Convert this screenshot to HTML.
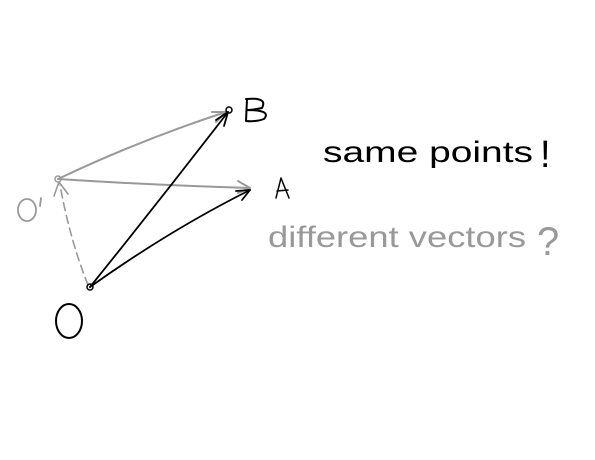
<!DOCTYPE html>
<html><head><style>
html,body{margin:0;padding:0;background:#fff;width:595px;height:460px;overflow:hidden}
</style></head><body>
<svg width="595" height="460" viewBox="0 0 595 460" xmlns="http://www.w3.org/2000/svg">
<g fill="none" stroke-linecap="round" stroke-linejoin="round">
<!-- gray arrows from O' -->
<path d="M58 179 Q140 140 226 112" stroke="#999" stroke-width="2"/>
<path d="M212 112 L226 112 L216 122" stroke="#999" stroke-width="2"/>
<path d="M58 179 Q150 185 250 188" stroke="#999" stroke-width="2"/>
<path d="M238 181 L250 188 L238 193" stroke="#999" stroke-width="2"/>
<!-- dashed O to O' -->
<path d="M88 285 Q70 240 60 185" stroke="#999" stroke-width="1.6" stroke-dasharray="8 5"/>
<path d="M54 196 L59 182 L68 194" stroke="#999" stroke-width="1.6"/>
<circle cx="58" cy="179" r="3" stroke="#999" stroke-width="1.5"/>
<!-- black arrows from O -->
<path d="M90 287 Q160 200 228 112" stroke="#000" stroke-width="1.8"/>
<path d="M216 120 L228 112 L224 126" stroke="#000" stroke-width="1.8"/>
<path d="M90 287 Q170 230 250 190" stroke="#000" stroke-width="1.8"/>
<path d="M236 191 L250 190 L242 200" stroke="#000" stroke-width="1.8"/>
<circle cx="90" cy="287" r="3" stroke="#000" stroke-width="1.5"/>
<circle cx="229" cy="110" r="3" stroke="#000" stroke-width="1.5"/>
<!-- O label -->
<ellipse cx="69" cy="321" rx="13" ry="17" stroke="#000" stroke-width="2"/>
<!-- O' label -->
<ellipse cx="27" cy="210" rx="9" ry="11" stroke="#999" stroke-width="1.8"/>
<path d="M41 198 L40 206" stroke="#999" stroke-width="1.8"/>
<!-- B -->
<path d="M247 99 L246 121 M246 99 Q268 97 262 108 Q252 110 247 110 Q272 110 264 119 Q256 122 246 121" stroke="#000" stroke-width="2"/>
<!-- A -->
<path d="M276 198 L281 178 L289 198 M277 191 L288 190" stroke="#000" stroke-width="1.5"/>
</g>
<text x="323" y="162" font-family="Liberation Sans, sans-serif" font-size="30" fill="#000" textLength="210" lengthAdjust="spacingAndGlyphs">same points</text>
<text x="540" y="167" font-family="Liberation Sans, sans-serif" font-size="38" fill="#000">!</text>
<text x="268" y="247" font-family="Liberation Sans, sans-serif" font-size="30" fill="#999" textLength="258" lengthAdjust="spacingAndGlyphs">different vectors</text>
<text x="537" y="255" font-family="Liberation Sans, sans-serif" font-size="40" fill="#999">?</text>
</svg>
</body></html>
